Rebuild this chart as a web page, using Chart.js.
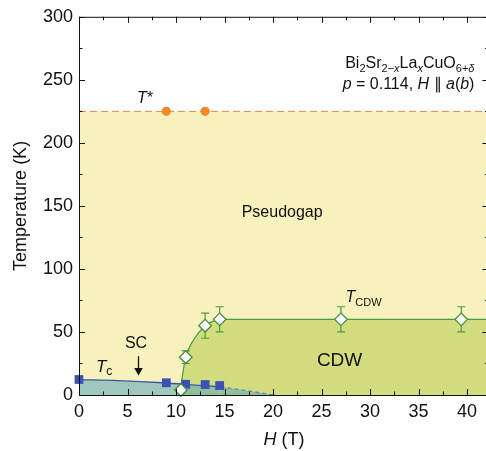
<!DOCTYPE html>
<html>
<head>
<meta charset="utf-8">
<script src="https://cdn.jsdelivr.net/npm/chart.js@4.4.1/dist/chart.umd.min.js"></script>
<style>
  html, body { margin: 0; padding: 0; overflow: hidden; background: #fff; }
  canvas { display: block; }
</style>
</head>
<body>
<canvas id="diagrama" width="496" height="451"></canvas>
<script>
// campo magnetico H (T) y temperatura (K)
const H_TSTAR = [9, 13];
const T_TSTAR = [225, 225];
const H_TC = [0, 9, 11, 13, 14.5];
const T_TC = [12.3, 9.7, 8.5, 8.3, 7.5];
const H_CDW = [10.5, 11, 13, 14.5, 27, 39.4];
const T_CDW = [4, 30, 55, 60, 60, 60];
const ERR_CDW = [0, 5, 10, 10, 10, 10];

// fronteras de las fases (a ojo)
const PG_H = [0, 42.2];
const PG_T = [225, 225];
const CDW_BORDE_H = [10.4, 10.6, 11, 11.6, 12.3, 13, 14, 15, 42.2];
const CDW_BORDE_T = [0, 12, 30, 41, 49, 55, 59, 60, 60];
const SC_BORDE_H = [0, 4, 8.6, 12, 14.6, 17.5, 20];
const SC_BORDE_T = [12.2, 11.4, 9.7, 7.8, 6.3, 3.2, 0];

// marcas de los ejes
const X_MAJ = [0, 5, 10, 15, 20, 25, 30, 35, 40];
const X_MIN = [2.5, 7.5, 12.5, 17.5, 22.5, 27.5, 32.5, 37.5];
const Y_MAJ = [0, 50, 100, 150, 200, 250, 300];
const Y_MIN = [25, 75, 125, 175, 225, 275];

const FAM = '"Liberation Sans", Arial, Helvetica, sans-serif';
Chart.defaults.font.family = FAM;

const pts = (xs, ys) => xs.map((x, i) => ({ x: x, y: ys[i] }));

// texto con cursivas y subindices: [texto, tamaño, cursiva, dy]
function escribir(ctx, trozos, x, y, alinear) {
  let ancho = 0;
  trozos.forEach(([t, s, it]) => {
    ctx.font = (it ? 'italic ' : '') + s + 'px ' + FAM;
    ancho += ctx.measureText(t).width;
  });
  let cx = alinear === 'right' ? x - ancho : alinear === 'center' ? x - ancho / 2 : x;
  ctx.textAlign = 'left';
  ctx.textBaseline = 'alphabetic';
  trozos.forEach(([t, s, it, dy]) => {
    ctx.font = (it ? 'italic ' : '') + s + 'px ' + FAM;
    ctx.fillText(t, cx, y + (dy || 0));
    cx += ctx.measureText(t).width;
  });
}

const barrasError = {
  id: 'barrasError',
  beforeDatasetDraw(chart, args) {
    if (args.index !== 1) return;
    const { ctx, scales: { x, y } } = chart;
    ctx.save();
    ctx.strokeStyle = '#4c9a43';
    ctx.lineWidth = 1.2;
    H_CDW.forEach((h, i) => {
      if (!ERR_CDW[i]) return;
      const px = x.getPixelForValue(h);
      const y1 = y.getPixelForValue(T_CDW[i] + ERR_CDW[i]);
      const y2 = y.getPixelForValue(T_CDW[i] - ERR_CDW[i]);
      ctx.beginPath();
      ctx.moveTo(px, y1); ctx.lineTo(px, y2);
      ctx.moveTo(px - 4, y1); ctx.lineTo(px + 4, y1);
      ctx.moveTo(px - 4, y2); ctx.lineTo(px + 4, y2);
      ctx.stroke();
    });
    ctx.restore();
  }
};

const marcoYTextos = {
  id: 'marcoYTextos',
  afterDatasetsDraw(chart) {
    const { ctx, chartArea: a, scales: { x, y } } = chart;
    ctx.save();
    // marco
    ctx.strokeStyle = '#111';
    ctx.lineWidth = 1;
    ctx.beginPath();
    ctx.moveTo(a.left + 0.5, a.top + 0.5);
    ctx.lineTo(a.right, a.top + 0.5);
    ctx.moveTo(a.left + 0.5, a.top);
    ctx.lineTo(a.left + 0.5, a.bottom + 0.5);
    ctx.lineTo(a.right, a.bottom + 0.5);
    // marcas hacia dentro
    const marcaX = (v, l) => {
      const px = Math.round(x.getPixelForValue(v)) + 0.5;
      ctx.moveTo(px, a.bottom); ctx.lineTo(px, a.bottom - l);
      ctx.moveTo(px, a.top); ctx.lineTo(px, a.top + l);
    };
    const marcaY = (v, l) => {
      const py = Math.round(y.getPixelForValue(v)) + 0.5;
      ctx.moveTo(a.left, py); ctx.lineTo(a.left + l, py);
      ctx.moveTo(a.right, py); ctx.lineTo(a.right - l, py);
    };
    X_MAJ.forEach(v => marcaX(v, 6));
    X_MIN.forEach(v => marcaX(v, 3.5));
    Y_MAJ.forEach(v => marcaY(v, 6));
    Y_MIN.forEach(v => marcaY(v, 3.5));
    ctx.stroke();

    ctx.fillStyle = '#111';
    const X = v => x.getPixelForValue(v);
    const Y = v => y.getPixelForValue(v);

    escribir(ctx, [['Pseudogap', 16]], X(20.94), Y(141.1), 'center');
    escribir(ctx, [['CDW', 19]], X(26.86), Y(23), 'center');
    escribir(ctx, [['SC', 16]], X(5.88), Y(37.2), 'center');
    escribir(ctx, [['T', 17, true], ['c', 12, false, 3]], X(1.75), Y(18.4), 'left');
    escribir(ctx, [['T', 16, true], ['*', 16]], X(5.99), Y(231.4), 'left');
    escribir(ctx, [['T', 16, true], ['CDW', 11, false, 4]], X(27.48), Y(73.9), 'left');

    escribir(ctx, [
      ['Bi', 16], ['2', 11, false, 4], ['Sr', 16], ['2\u2212', 11, false, 4], ['x', 11, true, 4],
      ['La', 16], ['x', 11, true, 4], ['CuO', 16], ['6+', 11, false, 4], ['\u03b4', 11, true, 4]
    ], X(40.76), Y(259), 'right');
    escribir(ctx, [
      ['p', 16, true], [' = 0.114, ', 16], ['H', 16, true], [' \u2225 ', 16],
      ['a', 16, true], ['(', 16], ['b', 16, true], [')', 16]
    ], X(40.76), Y(242.5), 'right');

    // flecha SC
    const ax = Math.round(X(6.09)) + 0.5;
    const top = Y(30.8), tip = Y(15.5);
    ctx.strokeStyle = '#111';
    ctx.lineWidth = 1.3;
    ctx.beginPath();
    ctx.moveTo(ax, top); ctx.lineTo(ax, tip - 5);
    ctx.stroke();
    ctx.beginPath();
    ctx.moveTo(ax - 4.3, tip - 7.5);
    ctx.lineTo(ax + 4.3, tip - 7.5);
    ctx.lineTo(ax, tip);
    ctx.closePath();
    ctx.fill();

    // titulo del eje x
    escribir(ctx, [['H', 18, true], [' (T)', 18]], (a.left + 489) / 2, a.bottom + 50, 'center');
    ctx.restore();
  }
};

new Chart(document.getElementById('diagrama'), {
  type: 'scatter',
  data: {
    datasets: [
      {
        data: pts(H_TC, T_TC), pointStyle: 'rect', pointRadius: 6.2,
        backgroundColor: '#3a52b0', borderColor: '#3a52b0', borderWidth: 0,
        order: 2, clip: false
      },
      {
        data: pts(H_CDW, T_CDW), pointStyle: 'rectRot', pointRadius: 6.3,
        backgroundColor: '#fff', borderColor: '#3f8f3a', borderWidth: 1.3,
        order: 1, clip: false
      },
      {
        data: pts(H_TSTAR, T_TSTAR), pointStyle: 'circle', pointRadius: 4.6,
        backgroundColor: '#f28a2a', borderWidth: 0, order: 3
      },
      {
        data: pts(SC_BORDE_H, SC_BORDE_T), showLine: true, pointRadius: 0,
        borderColor: '#3d56a8', borderWidth: 1.3,
        fill: 'origin', backgroundColor: 'rgba(88,166,186,0.55)',
        cubicInterpolationMode: 'monotone',
        segment: {
          borderDash: c => c.p0.parsed.x >= 14.6 ? [4, 3] : undefined,
          borderColor: c => c.p0.parsed.x >= 14.6 ? '#6f84b4' : undefined
        },
        order: 4
      },
      {
        data: pts(CDW_BORDE_H, CDW_BORDE_T), showLine: true, pointRadius: 0,
        borderColor: '#4c9a43', borderWidth: 1.2,
        fill: 'origin', backgroundColor: '#d4dc80',
        cubicInterpolationMode: 'monotone', order: 5
      },
      {
        data: pts(PG_H, PG_T), showLine: true, pointRadius: 0,
        borderColor: '#d98a52', borderWidth: 1, borderDash: [7, 4],
        fill: 'origin', backgroundColor: '#f7f1be', order: 6
      }
    ]
  },
  options: {
    responsive: false,
    devicePixelRatio: 1,
    animation: false,
    events: [],
    layout: { padding: { top: 16, right: 6, bottom: 0, left: 0 } },
    plugins: { legend: { display: false }, tooltip: { enabled: false } },
    scales: {
      x: {
        type: 'linear', min: 0, max: 42.2,
        grid: { display: false, drawTicks: false },
        border: { display: false },
        ticks: { font: { size: 18 }, color: '#111', padding: 6, maxRotation: 0 },
        afterBuildTicks: s => { s.ticks = X_MAJ.map(v => ({ value: v })); },
        afterFit: s => { s.height = 56; }
      },
      y: {
        type: 'linear', min: 0, max: 300,
        grid: { display: false, drawTicks: false },
        border: { display: false },
        ticks: { font: { size: 18 }, color: '#111', padding: 6 },
        afterBuildTicks: s => { s.ticks = Y_MAJ.map(v => ({ value: v })); },
        afterFit: s => { s.width = 79; },
        title: {
          display: true, text: 'Temperature (K)', color: '#111',
          font: { size: 18 }, padding: { top: 10, bottom: 0 }
        }
      }
    }
  },
  plugins: [barrasError, marcoYTextos]
});
</script>
</body>
</html>
